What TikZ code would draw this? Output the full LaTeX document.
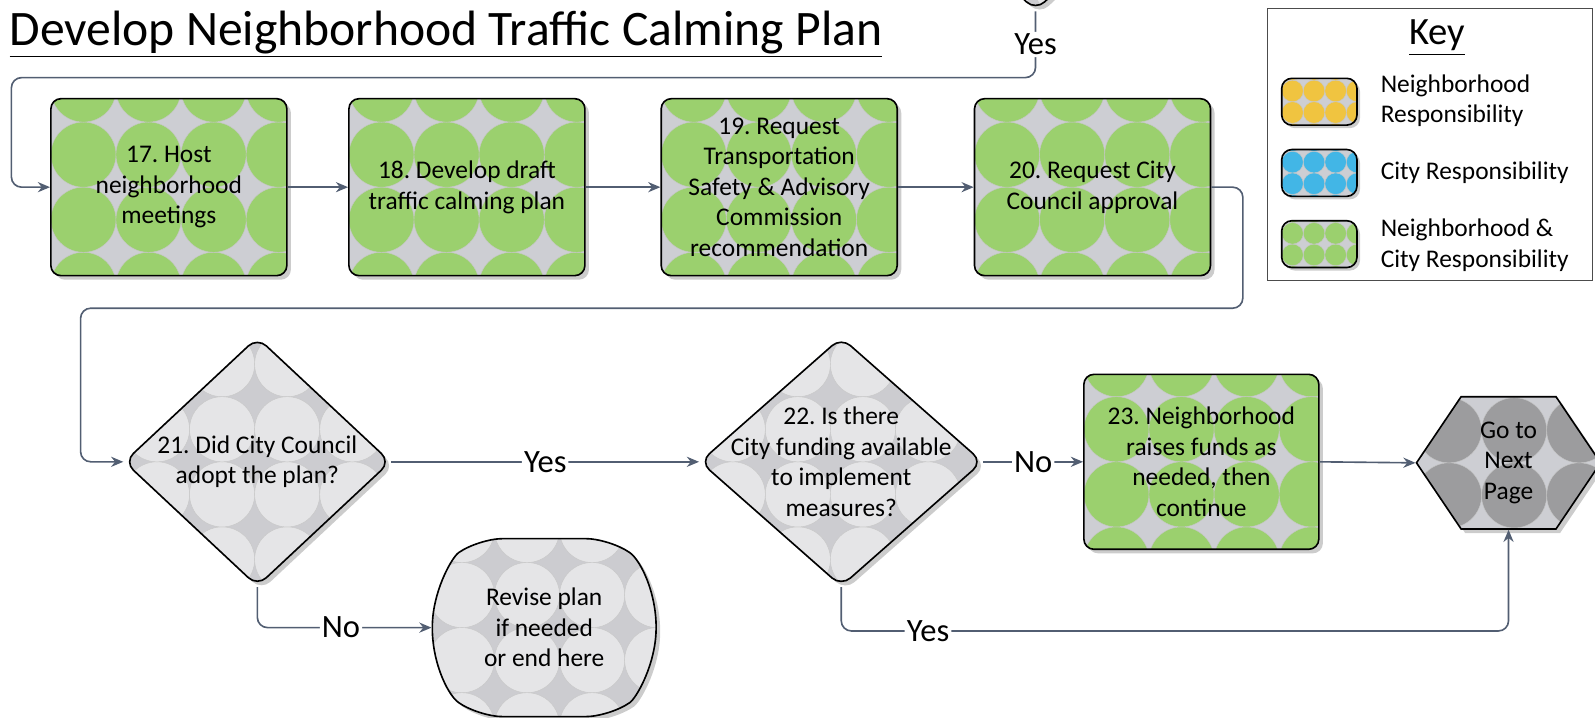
\documentclass[tikz,border=0pt]{standalone}
\usepackage{fontspec}
\setmainfont{Carlito}
\usepackage{tikz}
\usetikzlibrary{shapes.geometric,shapes.misc,shapes.symbols,shadows,arrows.meta}
\frenchspacing

\definecolor{leaf}{RGB}{155,208,110}
\definecolor{mist}{RGB}{205,206,211}
\definecolor{pale}{RGB}{229,229,231}
\definecolor{slate}{RGB}{204,204,208}
\definecolor{stone}{RGB}{156,156,158}
\definecolor{sun}{RGB}{240,196,64}
\definecolor{sky}{RGB}{66,182,230}
\definecolor{wire}{RGB}{82,94,114}

% circle pattern: circle colour, ground colour, radius
\tikzset{dots/.style n args={3}{path picture={
    \fill[#2] (path picture bounding box.south west) rectangle (path picture bounding box.north east);
    \foreach \i in {0,...,4} \foreach \j in {-3,...,3}
        \fill[#1, draw=black!22, line width=0.2pt] ([xshift=\i*2*#3+#3, yshift=\j*2*#3+#3]path picture bounding box.west) circle (#3);
}}}
\tikzstyle{boxtext} = [font=\fontsize{12.5}{15}\selectfont, align=center]
\tikzstyle{task} = [rectangle, rounded corners=5pt, draw=black, line width=0.8pt, minimum width=116pt, minimum height=87pt, inner sep=2pt, boxtext, dots={leaf}{mist}{16pt}, drop shadow={shadow xshift=2pt, shadow yshift=-2pt, fill=black!20, opacity=1}]
\tikzstyle{choice} = [diamond, rounded corners=6pt, draw=black, line width=0.8pt, minimum width=131pt, minimum height=122.5pt, inner sep=0pt, dots={pale}{slate}{16pt}, drop shadow={shadow xshift=2pt, shadow yshift=-2pt, fill=black!20, opacity=1}]
\tikzstyle{jump} = [signal, signal to=west and east, signal pointer angle=112, draw=black, line width=0.8pt, minimum width=90.5pt, minimum height=65pt, inner sep=0pt, boxtext, dots={stone}{mist}{16pt}, drop shadow={shadow xshift=2pt, shadow yshift=-2pt, fill=black!20, opacity=1}]
\tikzstyle{endcap} = [rounded rectangle, rounded rectangle arc length=110, rounded corners=12pt, draw=black, line width=0.8pt, minimum width=110pt, minimum height=87.5pt, inner sep=0pt, boxtext, dots={pale}{slate}{16pt}, drop shadow={shadow xshift=2pt, shadow yshift=-2pt, fill=black!20, opacity=1}]
\tikzstyle{swatch} = [rectangle, rounded corners=5pt, draw=black, line width=0.8pt, minimum width=37pt, minimum height=23pt, drop shadow={shadow xshift=1.5pt, shadow yshift=-1.5pt, fill=black!20, opacity=1}]
\tikzstyle{keytext} = [font=\fontsize{12.5}{15}\selectfont, align=left, anchor=west, inner sep=0pt]
\tikzstyle{lbl} = [fill=white, inner sep=1pt, font=\fontsize{16}{19}\selectfont]
\tikzstyle{arrow} = [draw=wire, line width=0.8pt, ->, >={Stealth[length=6pt,width=5pt]}, rounded corners=5pt]

\begin{document}
\begin{tikzpicture}[x=0.5pt, y=-0.5pt]
    \useasboundingbox (0,0) rectangle (1568,705);

    \node[anchor=west, inner sep=0pt, font=\fontsize{24.4}{28}\selectfont] (title) at (9,34) {\underline{Develop Neighborhood Traffic Calming Plan}};

    % first row
    \node[choice] (q16) at (1018,-112) {};
    \node[task] (b17) at (166,184) {17. Host\\neighborhood\\meetings};
    \node[task] (b18) at (459,184) {18. Develop draft\\traffic calming plan};
    \node[task] (b19) at (766,184) {19. Request\\Transportation\\Safety \& Advisory\\Commission\\recommendation};
    \node[task] (b20) at (1074,184) {20. Request City\\Council approval};

    % second row
    \node[choice, label={[boxtext]center:{21. Did City Council\\adopt the plan?}}] (d21) at (253,454) {};
    \node[choice, minimum width=139pt, label={[boxtext]center:{22. Is there\\City funding available\\to implement\\measures?}}] (d22) at (827,454) {};
    \node[task, minimum width=115.5pt, minimum height=86pt] (b23) at (1181,454) {23. Neighborhood\\raises funds as\\needed, then\\continue};
    \node[jump] (next) at (1483,455) {Go to\\Next\\Page};
    \node[endcap] (rev) at (535,617) {Revise plan\\if needed\\or end here};

    % key
    \node[draw=black!70, line width=0.5pt, minimum width=160pt, minimum height=134pt, inner sep=0pt] (key) at (1406,142) {};
    \node[font=\fontsize{19}{22}\selectfont, inner sep=0pt] (keyhead) at (1413,37) {\underline{Key}};
    \node[swatch, dots={sun}{mist}{5.3pt}] (k1) at (1297,100) {};
    \node[swatch, dots={sky}{mist}{5.3pt}] (k2) at (1297,170) {};
    \node[swatch, dots={leaf}{mist}{5.3pt}] (k3) at (1297,240) {};
    \node[keytext] (t1) at (1357,99) {Neighborhood\\Responsibility};
    \node[keytext] (t2) at (1357,170) {City Responsibility};
    \node[keytext] (t3) at (1357,241) {Neighborhood \&\\City Responsibility};

    % connectors
    \draw[arrow] (q16.south) -- node[lbl]{Yes} ++(0,65) -| ([xshift=-19pt]b17.west) -- (b17.west);
    \draw[arrow] (b17) -- (b18);
    \draw[arrow] (b18) -- (b19);
    \draw[arrow] (b19) -- (b20);
    \draw[arrow] (b20.east) -- ++(31,0) -- ++(0,119) -| ([xshift=-21pt]d21.west) -- (d21.west);
    \draw[arrow] (d21.east) -- node[lbl]{Yes} (d22.west);
    \draw[arrow] (d22.east) -- node[lbl]{No} (b23.west);
    \draw[arrow] (b23.east) -- (next.west);
    \draw[arrow] (d21.south) |- node[lbl, pos=0.74]{No} (rev.west);
    \draw[arrow] (d22.south) -- ++(0,43) coordinate (yturn) -- node[lbl, pos=0.13]{Yes} (yturn -| next.south) -- (next.south);
\end{tikzpicture}
\end{document}
